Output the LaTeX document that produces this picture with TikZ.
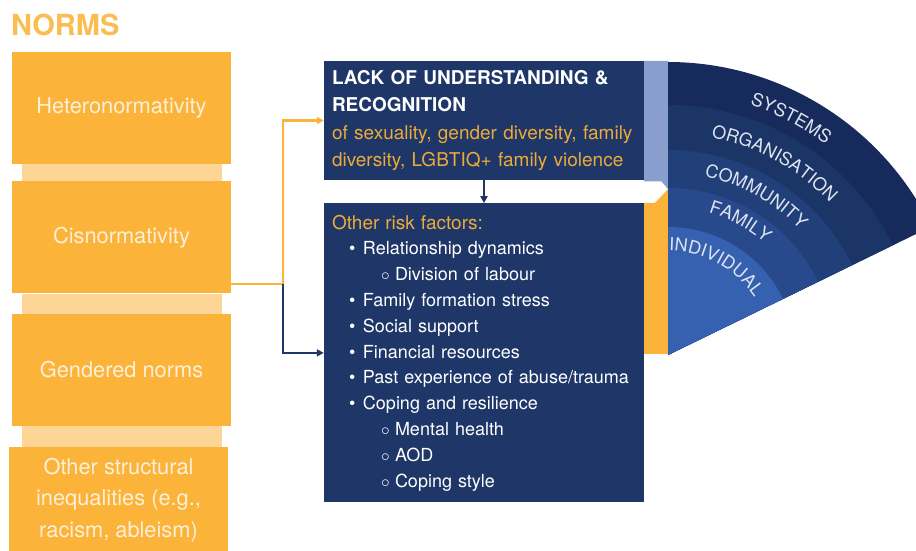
\documentclass[tikz,border=0pt]{standalone}
\usepackage{fontspec}
\setmainfont{TeX Gyre Heros}
\usetikzlibrary{positioning,calc,arrows.meta,decorations.text}

\definecolor{normorange}{HTML}{FBB33A}
\definecolor{normlight}{HTML}{FDD697}
\definecolor{normtitle}{HTML}{F9BD52}
\definecolor{normtext}{HTML}{FDF0D8}
\definecolor{risknavy}{HTML}{1E3768}
\definecolor{riskorange}{HTML}{EDAA3A}
\definecolor{lackstrip}{HTML}{8A9ECE}
\definecolor{ringsys}{HTML}{162B5B}
\definecolor{ringorg}{HTML}{1C3567}
\definecolor{ringcom}{HTML}{213F79}
\definecolor{ringfam}{HTML}{29498D}
\definecolor{ringind}{HTML}{3660B0}
\definecolor{fantext}{HTML}{DDE3EF}

\newcommand{\normsize}{\fontsize{21.8}{31.5}\selectfont}
\newcommand{\lacksize}{\fontsize{19}{27.3}\selectfont}
\newcommand{\risksize}{\fontsize{18}{25.8}\selectfont}
\newcommand{\fanfont}{\fontsize{18}{18}\selectfont}
\newcommand{\smallbullet}{\textbullet}
\newcommand{\riskitem}[1]{\hspace*{17pt}\makebox[14pt][l]{\smallbullet}#1}
\newcommand{\risksub}[1]{\hspace*{49pt}\makebox[14pt][l]{$\circ$}#1}

\tikzset{
  normbox/.style={fill=normorange, text=normtext, minimum width=219pt,
    minimum height=112pt, align=center, font=\normsize, inner sep=0pt},
  navybox/.style={fill=risknavy, text=white, align=left, inner xsep=8pt,
    inner ysep=0pt},
  normline/.style={draw=normorange, line width=2.4pt,
    -{Triangle[length=7pt,width=7pt]}},
  navyline/.style={draw=risknavy, line width=2.4pt,
    -{Triangle[length=7pt,width=7pt]}},
  fanlabel/.style={decorate, decoration={text along path, text align=center,
    text color=fantext, text={|\fanfont|#1}}}
}

\begin{document}
\begin{tikzpicture}[x=1pt, y=1pt]
  \useasboundingbox (0,0) rectangle (916,551);

  % norms column
  \node[anchor=base west, inner sep=0pt, text=normtitle,
    font=\fontsize{29}{29}\selectfont\bfseries] (title) at (11,515) {NORMS};
  \node[normbox] (hetero) at (121.5,443) {Heteronormativity};
  \node[normbox, below=17pt of hetero] (cis) {Cisnormativity};
  \node[normbox, below=20pt of cis] (gender) {Gendered norms};
  \node[normbox, below=21pt of gender, xshift=-3pt, minimum height=105pt]
    (other) {Other structural\\inequalities (e.g.,\\racism, ableism)};
  \fill[normlight] ($(hetero.south west)+(10,0)$) rectangle ($(cis.north east)+(-9,0)$);
  \fill[normlight] ($(cis.south west)+(10,0)$) rectangle ($(gender.north east)+(-9,0)$);
  \fill[normlight] ($(gender.south west)+(10,0)$) rectangle ($(other.north east)+(-6,0)$);

  % risk boxes
  \node[navybox, text width=304pt, minimum height=119pt, font=\lacksize]
    (lack) at (484,430.5) {{\bfseries LACK OF UNDERSTANDING \&}\\
    {\bfseries RECOGNITION}\\
    {\color{riskorange}of sexuality, gender diversity, family}\\
    {\color{riskorange}diversity, LGBTIQ+ family violence}};
  \node[navybox, text width=304pt, minimum height=299pt, font=\risksize,
    below=23pt of lack] (risk) {{\fontsize{19}{25.8}\selectfont\color{riskorange}Other risk factors:}\\
    \riskitem{Relationship dynamics}\\
    \risksub{Division of labour}\\
    \riskitem{Family formation stress}\\
    \riskitem{Social support}\\
    \riskitem{Financial resources}\\
    \riskitem{Past experience of abuse/trauma}\\
    \riskitem{Coping and resilience}\\
    \risksub{Mental health}\\
    \risksub{AOD}\\
    \risksub{Coping style}};

  \fill[lackstrip] (644,490) -- (668,490) -- (668,362) -- (661.5,369.5)
    -- (644,369.5) -- cycle;
  \fill[normorange] (644,348) -- (655,348) -- (668,362) -- (668,197)
    -- (644,197) -- cycle;

  % connectors
  \coordinate (split) at (283,267);
  \draw[normline] (split -| cis.east) -- (split) |- (lack.west);
  \draw[navyline] (split) |- (risk.west);
  \draw[navyline] (lack.south) -- (risk.north);

  % levels fan
  \begin{scope}
    \clip (0,0) rectangle (916,551);
    \begin{scope}[shift={(668,196)}]
      \foreach \r/\c in {293/ringsys,250/ringorg,205/ringcom,167/ringfam,128/ringind}
        \fill[\c] (0,0) -- (90:\r) arc[start angle=90, end angle=26, radius=\r] -- cycle;
      \path[fanlabel=SYSTEMS] (95:263) arc[start angle=95, end angle=30, radius=263];
      \path[fanlabel=ORGANISATION] (95:222) arc[start angle=95, end angle=27, radius=222];
      \path[fanlabel=COMMUNITY] (95:182) arc[start angle=95, end angle=27, radius=182];
      \path[fanlabel=FAMILY] (95:148) arc[start angle=95, end angle=28, radius=148];
      \path[fanlabel=INDIVIDUAL] (95:104) arc[start angle=95, end angle=28, radius=104];
    \end{scope}
  \end{scope}
\end{tikzpicture}
\end{document}
